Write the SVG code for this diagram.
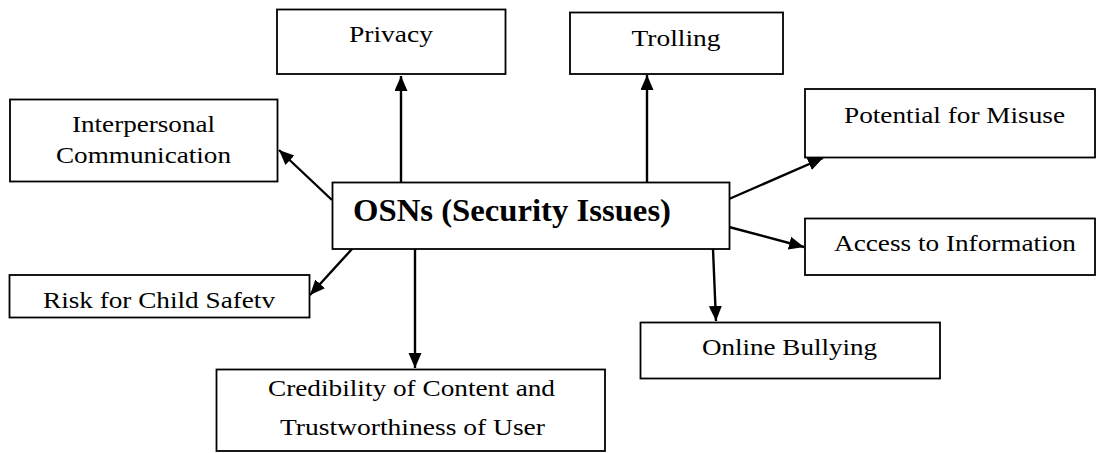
<svg xmlns="http://www.w3.org/2000/svg" width="1096" height="453" viewBox="0 0 1096 453">
  <style>
    .box { fill: #ffffff; stroke: #000000; stroke-width: 1.8; }
    .lbl { font-family: 'Liberation Serif', 'Times New Roman', serif; font-size: 24px; fill: #000000; text-anchor: middle; }
    .main { font-family: 'Liberation Serif', 'Times New Roman', serif; font-size: 32px; font-weight: bold; fill: #000000; }
    .conn { stroke: #000000; stroke-width: 2.4; fill: none; marker-end: url(#arrow); }
  </style>
  <defs>
    <marker id="arrow" markerUnits="userSpaceOnUse" markerWidth="16" markerHeight="14" refX="15" refY="6.5" orient="auto">
      <path d="M0,0 L15,6.5 L0,13 z" fill="#000000"/>
    </marker>
  </defs>
  <rect width="1096" height="453" fill="#ffffff"/>

  <g id="connectors">
    <line class="conn" x1="401" y1="182" x2="401" y2="76"/>
    <line class="conn" x1="647" y1="182" x2="647" y2="75"/>
    <line class="conn" x1="332" y1="200" x2="279" y2="150"/>
    <line class="conn" x1="729" y1="199" x2="823" y2="158"/>
    <line class="conn" x1="729" y1="227" x2="804" y2="247"/>
    <line class="conn" x1="713" y1="249" x2="716" y2="321"/>
    <line class="conn" x1="415" y1="249" x2="415" y2="368"/>
    <line class="conn" x1="352" y1="249" x2="310" y2="295"/>
  </g>

  <g id="privacy">
    <rect class="box" x="277" y="9.5" width="228.5" height="64.5"/>
    <text class="lbl" x="391" y="42" textLength="84" lengthAdjust="spacingAndGlyphs">Privacy</text>
  </g>
  <g id="trolling">
    <rect class="box" x="570" y="12.5" width="213" height="61.5"/>
    <text class="lbl" x="676" y="46" textLength="89" lengthAdjust="spacingAndGlyphs">Trolling</text>
  </g>
  <g id="interpersonal">
    <rect class="box" x="10" y="99.5" width="267.5" height="82"/>
    <text class="lbl" x="143.5" y="132" textLength="143" lengthAdjust="spacingAndGlyphs">Interpersonal</text>
    <text class="lbl" x="143.5" y="163" textLength="175" lengthAdjust="spacingAndGlyphs">Communication</text>
  </g>
  <g id="potential">
    <rect class="box" x="805" y="89" width="290" height="68.5"/>
    <text class="lbl" x="954.5" y="123" textLength="221" lengthAdjust="spacingAndGlyphs">Potential for Misuse</text>
  </g>
  <g id="osns">
    <rect class="box" x="332.5" y="182.5" width="397" height="66.5"/>
    <text class="main" x="353" y="221" textLength="318" lengthAdjust="spacingAndGlyphs">OSNs (Security Issues)</text>
  </g>
  <g id="access">
    <rect class="box" x="805" y="218.5" width="290" height="56.5"/>
    <text class="lbl" x="955" y="251" textLength="242" lengthAdjust="spacingAndGlyphs">Access to Information</text>
  </g>
  <g id="risk">
    <rect class="box" x="9.5" y="275" width="300" height="42.5"/>
    <text class="lbl" x="159" y="308" textLength="232" lengthAdjust="spacingAndGlyphs">Risk for Child Safetv</text>
  </g>
  <g id="online">
    <rect class="box" x="640.5" y="322.5" width="299.5" height="56"/>
    <text class="lbl" x="789.5" y="355" textLength="175" lengthAdjust="spacingAndGlyphs">Online Bullying</text>
  </g>
  <g id="credibility">
    <rect class="box" x="216.5" y="369.5" width="388.5" height="81.5"/>
    <text class="lbl" x="411.5" y="396" textLength="287" lengthAdjust="spacingAndGlyphs">Credibility of Content and</text>
    <text class="lbl" x="412.5" y="435" textLength="265" lengthAdjust="spacingAndGlyphs">Trustworthiness of User</text>
  </g>
</svg>
